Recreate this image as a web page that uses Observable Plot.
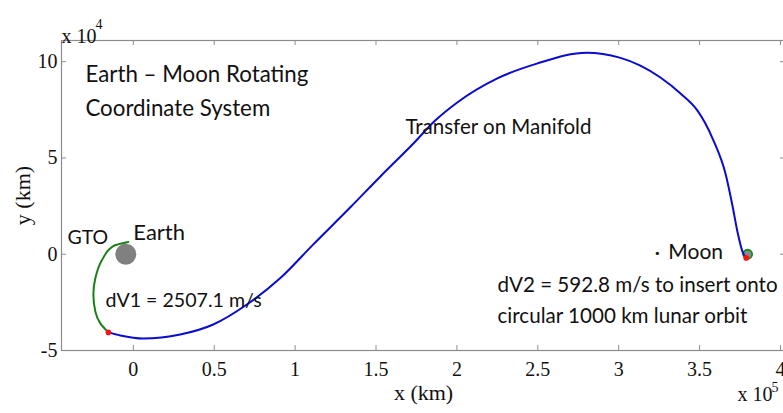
<!DOCTYPE html>
<html><head><meta charset="utf-8">
<script src="https://cdn.jsdelivr.net/npm/d3@7"></script>
<script src="https://cdn.jsdelivr.net/npm/@observablehq/plot@0.6"></script>
<style>html,body{margin:0;padding:0;background:#fff;overflow:hidden}svg{display:block}</style>
</head><body><div id="chart"></div>
<script>
// Units: x in 10^5 km, y in 10^4 km (Earth–Moon rotating frame)
const transferX = [-0.154, -0.080, 0.062, 0.290, 0.494, 0.704, 0.907, 1.111, 1.343, 1.527, 1.731, 1.864, 2.000, 2.247, 2.494, 2.802, 3.006, 3.134, 3.258, 3.382, 3.487, 3.536, 3.586, 3.660, 3.703, 3.734, 3.765, 3.788];
const transferY = [-4.06, -4.22, -4.38, -4.17, -3.65, -2.60, -1.25, 0.50, 2.45, 4.04, 5.75, 6.93, 7.87, 9.12, 9.90, 10.47, 10.21, 9.80, 9.18, 8.35, 7.46, 6.79, 5.90, 4.19, 2.53, 1.17, 0.14, -0.19];
const gtoX = [-0.031, -0.124, -0.191, -0.235, -0.247, -0.235, -0.204, -0.154];
const gtoY = [0.63, 0.42, -0.26, -1.25, -2.08, -2.97, -3.59, -4.06];
const burnX = [-0.154, 3.788];
const burnY = [-4.06, -0.19];
const bodyNames = ["Earth", "Moon"];
const bodyX = [-0.0467, 3.797];
const bodyY = [0, 0];

const xTicks = [0, 0.5, 1, 1.5, 2, 2.5, 3, 3.5, 4];
const xTickLabels = ["0", "0.5", "1", "1.5", "2", "2.5", "3", "3.5", "4"];
const yTicks = [-5, 0, 5, 10];
const yTickLabels = ["-5", "0", "5", "10"];

const titleTexts = ["Earth \u2013 Moon Rotating", "Coordinate System"];
const titleX = [-0.296, -0.296];
const titleY = [9.33, 7.57];
const noteTexts = ["Transfer on Manifold", "GTO", "Earth", "dV1 = 2507.1 m/s", "\u00b7", "Moon", "dV2 = 592.8 m/s to insert onto", "circular 1000 km lunar orbit"];
const noteX = [1.682, -0.407, 0.0, -0.172, 3.221, 3.307, 2.251, 2.251];
const noteY = [6.58, 0.87, 1.13, -2.43, 0.05, 0.11, -1.63, -3.24];

// styling (font sizes per note, in px)
const noteFontSizes = [20.5, 19.5, 22, 19.6, 22, 21, 20.6, 20.6];

const zip = (xs, ys) => xs.map((x, i) => ({x, y: ys[i]}));
const transfer = zip(transferX, transferY);
const gto = zip(gtoX, gtoY);
const burns = zip(burnX, burnY);
const titles = titleTexts.map((t, i) => ({t, x: titleX[i], y: titleY[i]}));
const notes = noteTexts.map((t, i) => ({t, x: noteX[i], y: noteY[i], fs: noteFontSizes[i]}));
const earth = [{x: bodyX[0], y: bodyY[0]}];
const moon = [{x: bodyX[1], y: bodyY[1]}];
const xLab = new Map(xTicks.map((t, i) => [t, xTickLabels[i]]));
const yLab = new Map(yTicks.map((t, i) => [t, yTickLabels[i]]));

const SANS = "Lato, 'Open Sans', sans-serif";
const SERIF = "'Liberation Serif', 'Times New Roman', serif";
const AX = "#8c8c8c";
const H = 310, W = 724;

const chart = Plot.plot({
  width: 783, height: 413,
  marginLeft: 61, marginRight: -2, marginTop: 40, marginBottom: 63,
  x: {domain: [-0.444, 4.031]},
  y: {domain: [-5, 11.1]},
  style: {background: "#fff", overflow: "hidden"},
  marks: [
    Plot.frame({stroke: AX, strokeWidth: 1.2}),
    Plot.ruleX(xTicks, {x: d => d, insetTop: H - 5, stroke: AX}),
    Plot.ruleX(xTicks, {x: d => d, insetBottom: H - 5, stroke: AX}),
    Plot.ruleY(yTicks, {y: d => d, insetRight: W - 5, stroke: AX}),
    Plot.ruleY(yTicks, {y: d => d, insetLeft: W - 5, stroke: AX}),
    Plot.axisX(xTicks, {anchor: "bottom", tickSize: 0, tickPadding: 11, tickFormat: d => xLab.get(d), fontSize: 20, fontFamily: SERIF, fill: "#111", label: null}),
    Plot.axisY(yTicks, {anchor: "left", tickSize: 0, tickPadding: 4, tickFormat: d => yLab.get(d), fontSize: 20, fontFamily: SERIF, fill: "#111", label: null}),
    Plot.text(["x (km)"], {frameAnchor: "bottom", dy: 49, fontSize: 22, fontFamily: SERIF, fill: "#111"}),
    Plot.text(["y (km)"], {frameAnchor: "left", textAnchor: "middle", dx: -39, rotate: -90, fontSize: 22, fontFamily: SERIF, fill: "#111"}),
    Plot.text(["x 10"], {frameAnchor: "top-left", textAnchor: "start", dx: 0, dy: -12, fontSize: 20, fontFamily: SERIF, fill: "#111"}),
    Plot.text(["4"], {frameAnchor: "top-left", textAnchor: "start", dx: 34, dy: -21, fontSize: 14, fontFamily: SERIF, fill: "#111"}),
    Plot.text(["x 10"], {frameAnchor: "bottom-right", textAnchor: "start", dx: -48, dy: 50, fontSize: 20, fontFamily: SERIF, fill: "#111"}),
    Plot.text(["5"], {frameAnchor: "bottom-right", textAnchor: "start", dx: -14, dy: 41, fontSize: 14, fontFamily: SERIF, fill: "#111"}),
    Plot.dot(earth, {x: "x", y: "y", r: 10.5, fill: "#808080"}),
    Plot.dot(moon, {x: "x", y: "y", r: 4.5, fill: "#8a8a8a", stroke: "#1a8a1a", strokeWidth: 1.8}),
    Plot.line(gto, {x: "x", y: "y", stroke: "#1a7f1a", strokeWidth: 2, curve: "monotone-y"}),
    Plot.line(transfer, {x: "x", y: "y", stroke: "#0a0ad0", strokeWidth: 2, curve: "monotone-x"}),
    Plot.dot(burns, {x: "x", y: "y", r: 2.8, fill: "#ff1010"}),
    Plot.text(titles, {x: "x", y: "y", text: "t", textAnchor: "start", lineAnchor: "middle", fontSize: 22.3, fontFamily: SANS, fill: "#111"}),
    Plot.text(notes, {x: "x", y: "y", text: "t", textAnchor: "start", lineAnchor: "middle", fontSize: "fs", fontFamily: SANS, fill: "#111"})
  ]
});
document.getElementById("chart").appendChild(chart);
</script>
</body></html>
